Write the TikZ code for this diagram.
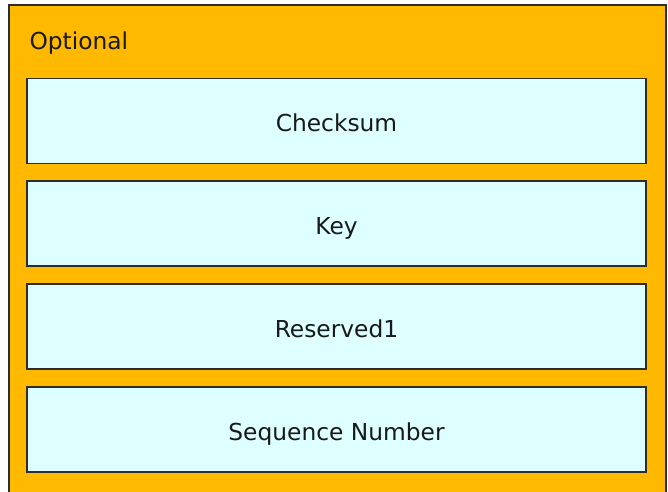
\documentclass[tikz,border=0pt]{standalone}
\usepackage{fontspec}
\setmainfont{DejaVu Sans}
\definecolor{optorange}{RGB}{255,185,0}
\definecolor{fieldcyan}{RGB}{221,255,255}
\definecolor{edgegray}{RGB}{45,45,45}
\definecolor{labelgray}{RGB}{25,25,25}
\tikzset{every picture/.style={line width=0.75pt}}
\tikzset{
  field/.style={draw=edgegray, line width=1.2pt, fill=fieldcyan, minimum width=464.25pt, minimum height=63.75pt,
    inner sep=0pt, text height=16.5pt, text depth=0pt, text=labelgray, font=\fontsize{17.5}{21}\selectfont},
  grouplabel/.style={anchor=base west, inner sep=0pt, text=labelgray, font=\fontsize{17.5}{21}\selectfont}
}

\begin{document}
\begin{tikzpicture}[x=0.75pt,y=0.75pt,yscale=-1,xscale=1]
\useasboundingbox (0,0) rectangle (668,492);
\clip (0,0) rectangle (668,492);

%Shape: Rectangle [Optional group]
\draw [draw=edgegray, line width=1.5pt, fill=optorange] (9,5) -- (666,5) -- (666,505) -- (9,505) -- cycle ;

% Text Node
\node [grouplabel] (optional) at (29,50) {Optional};

% Fields
\node [field] (checksum) at (336.5,121) {Checksum};
\node [field] (key) at (336.5,223.5) {Key};
\node [field] (reserved) at (336.5,326.5) {Reserved1};
\node [field] (seqnum) at (336.5,429.5) {Sequence Number};

\end{tikzpicture}
\end{document}
